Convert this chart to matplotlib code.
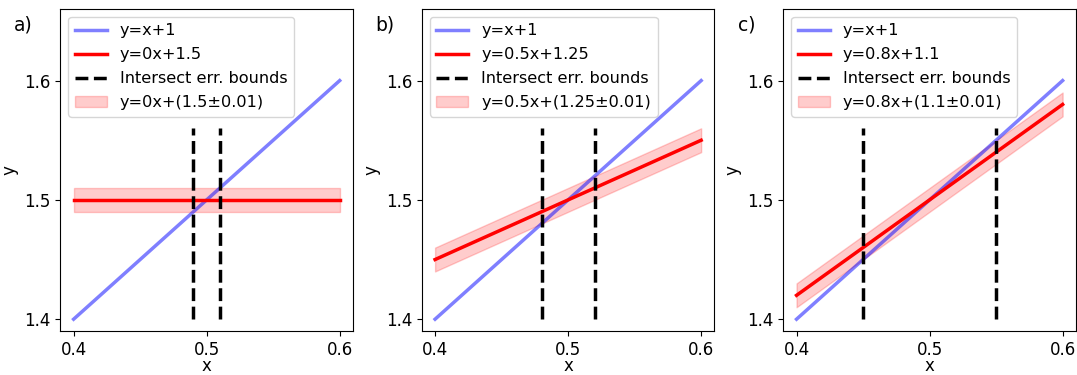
import matplotlib
matplotlib.use("Agg")
import matplotlib.pyplot as plt
import numpy as np

# reference line y = x + 1 and the three fitted lines y = m*x + b
x_ends = np.array([0.4, 0.6])
panel_tags = ["a)", "b)", "c)"]
slopes = [0, 0.5, 0.8]
intercepts = [1.5, 1.25, 1.1]
slope_txt = ["0", "0.5", "0.8"]
intercept_txt = ["1.5", "1.25", "1.1"]
err = 0.01
# x where y=x+1 crosses the edges of the band
bounds = [(0.49, 0.51), (0.48, 0.52), (0.45, 0.55)]
vline_lo, vline_hi = 1.4, 1.56

plt.rcParams['font.size'] = 12

fig, axes = plt.subplots(1, 3, figsize=(10.77, 3.75), dpi=100)
fig.subplots_adjust(left=0.056, right=0.999, bottom=0.117, top=0.976, wspace=0.235)

for i, ax in enumerate(axes):
    m = slopes[i]
    b = intercepts[i]
    y_fit = m * x_ends + b

    ax.plot(x_ends, x_ends + 1, color='blue', alpha=0.5, lw=2.5, label="y=x+1")
    ax.plot(x_ends, y_fit, color='red', lw=2.5, label=f"y={slope_txt[i]}x+{intercept_txt[i]}")
    ax.vlines(bounds[i], vline_lo, vline_hi, colors='black', linestyles='--', lw=2.5,
              label="Intersect err. bounds")
    ax.fill_between(x_ends, y_fit - err, y_fit + err, color='red', alpha=0.2,
                    label=f"y={slope_txt[i]}x+({intercept_txt[i]}±{err})")

    ax.set_ylim(1.39, 1.66)
    ax.set_xticks([0.4, 0.5, 0.6])
    ax.set_yticks([1.4, 1.5, 1.6])
    ax.set_xlabel("x", labelpad=-1)
    ax.set_ylabel("y")
    ax.legend(loc='upper left', fontsize=11.6, labelspacing=0.55)
    ax.text(-0.125, 0.95, panel_tags[i], transform=ax.transAxes, fontsize=13.5,
            ha='center', va='center')

plt.savefig("out.png", dpi=100)
